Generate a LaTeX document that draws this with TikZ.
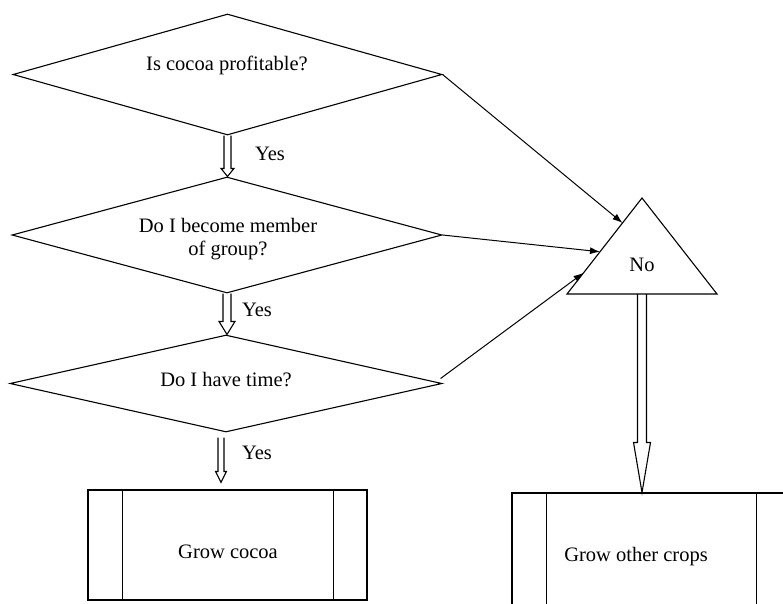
\documentclass[tikz,border=0pt]{standalone}
\usepackage{fontspec}
\setmainfont{Liberation Serif}
\usetikzlibrary{shapes.geometric,arrows.meta,calc}
\newcommand\hollowarrow[5]{\draw[shapeline, line join=miter] let \p1=(#1), \p2=(#2) in
  (\x1-#3,\y1) -- (\x1-#3,\y2+#5) -- (\x1-#4,\y2+#5) -- (\x1,\y2) -- (\x1+#4,\y2+#5) -- (\x1+#3,\y2+#5) -- (\x1+#3,\y1);}
\begin{document}
\begin{tikzpicture}[x=1pt,y=-1pt,
  every node/.style={font=\fontsize{20.5}{23}\selectfont, inner sep=0pt},
  shapeline/.style={draw, line width=1.1pt},
  dia/.style={diamond, shapeline},
  arr/.style={line width=1pt, -{Latex[length=10pt,width=7pt]}},
  procbox/.style={rectangle, shapeline, minimum width=279pt, minimum height=#1}]
\useasboundingbox (0,0) rectangle (783,603);
\clip (0,0) rectangle (783,603);
% decisions
\node[dia, minimum width=429pt, minimum height=121pt] (D1) at (227.5,74.5) {};
\node (T1) at (227,65) {Is cocoa profitable?};
\node[dia, minimum width=430pt, minimum height=116pt] (D2) at (227,235) {};
\node[align=center] (T2) at (228,239) {Do I become member\\of group?};
\node[dia, minimum width=432pt, minimum height=97pt] (D3) at (226,383.5) {};
\node (T3) at (226,380) {Do I have time?};
% triangle
\coordinate (TA) at (642,198);
\coordinate (TL) at (567,294);
\coordinate (TR) at (717,294);
\coordinate (TB) at (642,294);
\draw[shapeline, line join=miter] (TA) -- (TL) -- (TR) -- cycle;
\node (No) at (642,265) {No};
% process boxes
\node[procbox=110pt] (B1) at (227.5,545) {};
\draw[shapeline] ($(B1.north west)+(35,0)$) -- ($(B1.south west)+(35,0)$);
\draw[shapeline] ($(B1.north east)+(-34,0)$) -- ($(B1.south east)+(-34,0)$);
\node (G1) at (228,552) {Grow cocoa};
\node[procbox=112pt] (B2) at (651.5,549) {};
\draw[shapeline] ($(B2.north west)+(35,0)$) -- ($(B2.south west)+(35,0)$);
\draw[shapeline] ($(B2.north east)+(-35,0)$) -- ($(B2.south east)+(-35,0)$);
\node (G2) at (636,557) {Grow other crops};
% No arrows
\draw[arr] (D1.east) -- ($(TL)!0.74!(TA)$);
\draw[arr] (D2.east) -- ($(TL)!0.44!(TA)$);
\draw[arr] ($(D3.east)+(-2,-5)$) -- ($(TL)!0.22!(TA)$);
% Yes hollow arrows
\hollowarrow{D1.south}{D2.north}{3.5pt}{6.5pt}{8pt}
\hollowarrow{D2.south}{D3.north}{4pt}{8pt}{13pt}
\hollowarrow{$(D3.south)+(-5,5)$}{$(B1.north)+(-6,-7)$}{3pt}{5.5pt}{11pt}
\hollowarrow{TB}{B2.north}{4.5pt}{8.5pt}{50pt}
\node (Y1) at (270,154) {Yes};
\node (Y2) at (257,310) {Yes};
\node (Y3) at (257,453) {Yes};
\end{tikzpicture}
\end{document}
